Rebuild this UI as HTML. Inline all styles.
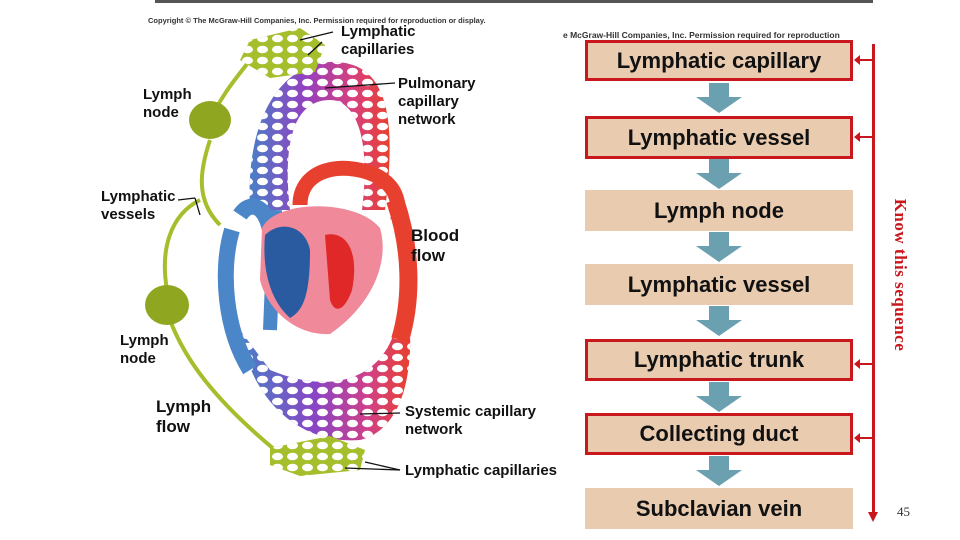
<!DOCTYPE html>
<html><head><meta charset="utf-8"><style>
html,body{margin:0;padding:0;background:#fff;width:960px;height:540px;overflow:hidden;position:relative;font-family:"Liberation Sans",Arial,sans-serif}
.t{position:absolute;font-weight:bold;color:#111;line-height:18px;font-size:15px}
.box{position:absolute;left:585px;width:268px;background:#e9cbb0;box-sizing:border-box;font-weight:bold;font-size:22px;text-align:center;color:#111}
.r{border:3px solid #c8181e}
.arr{position:absolute;left:696px;width:46px;height:30px}
.sm{position:absolute;left:856px;width:17px;height:2px;background:#c8181e}
.sm:before{content:"";position:absolute;left:-2px;top:-4px;border-right:6px solid #c8181e;border-top:5px solid transparent;border-bottom:5px solid transparent}
</style></head><body>
<div style="position:absolute;left:155px;top:0;width:718px;height:3px;background:#555"></div>
<div style="position:absolute;left:148px;top:16px;font-size:7.5px;font-weight:bold;color:#333">Copyright © The McGraw-Hill Companies, Inc. Permission required for reproduction or display.</div>
<div style="position:absolute;left:563px;top:30px;font-size:8.5px;font-weight:bold;color:#333;white-space:nowrap">e McGraw-Hill Companies, Inc. Permission required for reproduction</div>

<svg style="position:absolute;left:0;top:0" width="580" height="540">
<defs><pattern id="net" width="15" height="11" patternUnits="userSpaceOnUse"><ellipse cx="7.5" cy="5.5" rx="5.5" ry="3.8" fill="#fff"/></pattern>
<linearGradient id="pg" x1="0" x2="1"><stop offset="0" stop-color="#4a7fc6"/><stop offset=".4" stop-color="#9440c0"/><stop offset=".75" stop-color="#d8407a"/><stop offset="1" stop-color="#e8402e"/></linearGradient>
<linearGradient id="sg" x1="0" x2="1"><stop offset="0" stop-color="#4a7fc6"/><stop offset=".45" stop-color="#8a44c4"/><stop offset=".75" stop-color="#d04088"/><stop offset="1" stop-color="#e8402e"/></linearGradient></defs>
<path d="M250,210 C245,120 280,65 330,62 C385,60 398,110 385,210 L362,210 C372,130 352,100 330,100 C295,100 282,140 290,210 Z" fill="url(#pg)"/>
<path d="M250,210 C245,120 280,65 330,62 C385,60 398,110 385,210 L362,210 C372,130 352,100 330,100 C295,100 282,140 290,210 Z" fill="url(#net)"/>
<path d="M240,330 C250,400 300,445 360,440 C400,430 412,380 410,330 L395,330 C380,380 330,395 270,370 Z" fill="url(#sg)"/>
<path d="M240,330 C250,400 300,445 360,440 C400,430 412,380 410,330 L395,330 C380,380 330,395 270,370 Z" fill="url(#net)"/>
<path d="M232,230 C220,270 225,330 250,370" stroke="#4a86c8" stroke-width="16" fill="none"/>
<path d="M275,210 L270,330" stroke="#4a86c8" stroke-width="14" fill="none"/>
<path d="M395,200 C412,250 412,300 400,340" stroke="#e8402e" stroke-width="18" fill="none"/>
<path d="M300,205 C300,170 340,160 375,175 C395,185 400,200 398,220" stroke="#e8402e" stroke-width="15" fill="none"/>
<path d="M240,215 C250,200 265,205 270,230" stroke="#4a86c8" stroke-width="16" fill="none"/>
<path d="M262,228 C275,200 355,198 380,228 C390,262 372,305 330,334 C298,336 268,312 260,280 Z" fill="#f08a9a"/>
<path d="M265,235 C280,220 305,225 310,250 C310,290 305,310 290,318 C270,300 262,270 265,235 Z" fill="#2a5aa0"/>
<path d="M325,235 C345,230 360,250 352,290 C345,310 335,315 330,300 Z" fill="#e02828"/>
<g stroke="#a4be2c" fill="none" stroke-width="4">
<path d="M210,120 C225,90 235,80 250,60"/>
<path d="M210,140 C200,170 195,200 220,225"/>
<path d="M200,200 C170,215 160,250 167,290"/>
<path d="M170,320 C185,360 215,400 275,450"/>
</g>
<path d="M250,40 L300,28 L325,45 L315,72 L270,78 L240,60 Z" fill="#a4be2c"/>
<path d="M250,40 L300,28 L325,45 L315,72 L270,78 L240,60 Z" fill="url(#net)"/>
<path d="M270,448 L330,436 L365,450 L360,470 L300,476 L270,465 Z" fill="#a4be2c"/>
<path d="M270,448 L330,436 L365,450 L360,470 L300,476 L270,465 Z" fill="url(#net)"/>
<ellipse cx="210" cy="120" rx="21" ry="19" fill="#8ea620"/>
<ellipse cx="167" cy="305" rx="22" ry="20" fill="#8ea620"/>
<g stroke="#111" stroke-width="1.3" fill="none">
<line x1="300" y1="40" x2="333" y2="32"/><line x1="308" y1="55" x2="322" y2="42"/>
<line x1="325" y1="88" x2="395" y2="83"/>
<line x1="178" y1="200" x2="195" y2="198"/><line x1="195" y1="198" x2="200" y2="215"/>
<line x1="360" y1="414" x2="400" y2="413"/>
<line x1="345" y1="468" x2="400" y2="470"/><line x1="365" y1="462" x2="400" y2="470"/>
</g>
</svg>
<div class="t" style="left:341px;top:23px">Lymphatic<br>capillaries</div>
<div class="t" style="left:143px;top:86px">Lymph<br>node</div>
<div class="t" style="left:398px;top:75px">Pulmonary<br>capillary<br>network</div>
<div class="t" style="left:101px;top:188px">Lymphatic<br>vessels</div>
<div class="t" style="left:411px;top:226px;font-size:17px;line-height:20px">Blood<br>flow</div>
<div class="t" style="left:120px;top:332px">Lymph<br>node</div>
<div class="t" style="left:156px;top:397px;font-size:17px;line-height:20px">Lymph<br>flow</div>
<div class="t" style="left:405px;top:403px">Systemic capillary<br>network</div>
<div class="t" style="left:405px;top:462px">Lymphatic capillaries</div>

<div class="box r" style="top:40px;height:41px;line-height:35px">Lymphatic capillary</div>
<div class="box r" style="top:116px;height:43px;line-height:37px">Lymphatic vessel</div>
<div class="box" style="top:190px;height:41px;line-height:41px">Lymph node</div>
<div class="box" style="top:264px;height:41px;line-height:41px">Lymphatic vessel</div>
<div class="box r" style="top:339px;height:42px;line-height:36px">Lymphatic trunk</div>
<div class="box r" style="top:413px;height:42px;line-height:36px">Collecting duct</div>
<div class="box" style="top:488px;height:41px;line-height:41px">Subclavian vein</div>
<svg class="arr" style="top:83px" viewBox="0 0 46 30"><path d="M13,0h20v14h13L23,30L0,14h13z" fill="#6aa0b0"/></svg>
<svg class="arr" style="top:159px" viewBox="0 0 46 30"><path d="M13,0h20v14h13L23,30L0,14h13z" fill="#6aa0b0"/></svg>
<svg class="arr" style="top:232px" viewBox="0 0 46 30"><path d="M13,0h20v14h13L23,30L0,14h13z" fill="#6aa0b0"/></svg>
<svg class="arr" style="top:306px" viewBox="0 0 46 30"><path d="M13,0h20v14h13L23,30L0,14h13z" fill="#6aa0b0"/></svg>
<svg class="arr" style="top:382px" viewBox="0 0 46 30"><path d="M13,0h20v14h13L23,30L0,14h13z" fill="#6aa0b0"/></svg>
<svg class="arr" style="top:456px" viewBox="0 0 46 30"><path d="M13,0h20v14h13L23,30L0,14h13z" fill="#6aa0b0"/></svg>
<div style="position:absolute;left:872px;top:44px;width:3px;height:470px;background:#c8181e"></div>
<div style="position:absolute;left:868px;top:512px;border-top:10px solid #c8181e;border-left:5px solid transparent;border-right:5px solid transparent"></div>
<div class="sm" style="top:59px"></div><div class="sm" style="top:136px"></div><div class="sm" style="top:363px"></div><div class="sm" style="top:437px"></div>
<div style="position:absolute;left:810px;top:266px;width:180px;text-align:center;transform:rotate(90deg);font-family:'Liberation Serif',serif;font-size:17px;font-weight:bold;color:#c8181e;line-height:18px;letter-spacing:.5px">Know this sequence</div>
<div style="position:absolute;left:897px;top:504px;font-family:'Liberation Serif',serif;font-size:13px;color:#333">45</div>
</body></html>
